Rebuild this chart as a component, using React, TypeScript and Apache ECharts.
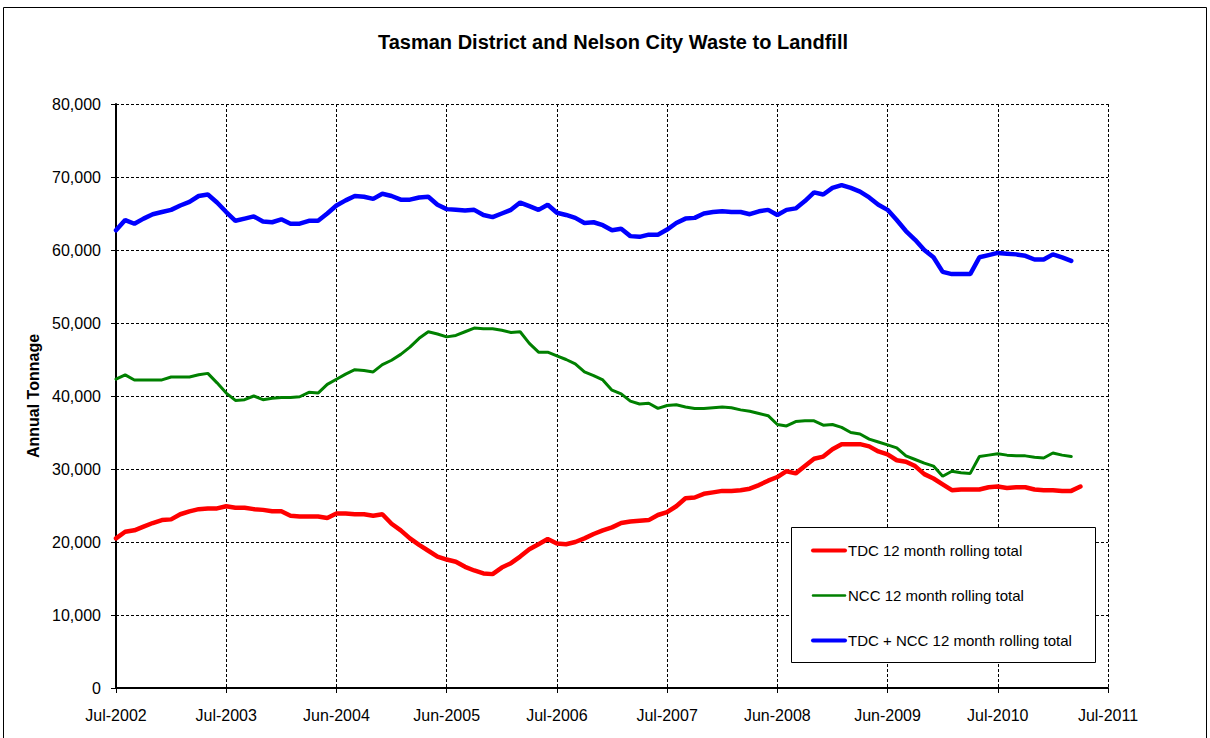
import React, { useEffect, useRef } from "react";
import * as echarts from "echarts";

const title = "Tasman District and Nelson City Waste to Landfill";
const yAxisName = "Annual Tonnage";
const tickLabels = [
  "Jul-2002", "Jul-2003", "Jun-2004", "Jun-2005", "Jul-2006",
  "Jul-2007", "Jun-2008", "Jun-2009", "Jul-2010", "Jul-2011",
];
const seriesNames = [
  "TDC 12 month rolling total",
  "NCC 12 month rolling total",
  "TDC + NCC 12 month rolling total",
];

// monthly values from Jul-2002
const tdc = [
  20500, 21400, 21600, 22100, 22600, 23000, 23100, 23800, 24200, 24500,
  24600, 24600, 24900, 24700, 24700, 24500, 24400, 24200, 24200, 23600,
  23500, 23500, 23500, 23300, 23900, 23900, 23800, 23800, 23600, 23800,
  22500, 21600, 20500, 19600, 18800, 18000, 17600, 17300, 16600, 16100,
  15700, 15600, 16500, 17100, 18000, 19000, 19700, 20400, 19800, 19700,
  20000, 20500, 21100, 21600, 22000, 22600, 22800, 22900, 23000, 23700,
  24100, 24900, 26000, 26100, 26600, 26800, 27000, 27000, 27100, 27300,
  27800, 28400, 28900, 29700, 29400, 30400, 31400, 31700, 32700, 33400,
  33400, 33400, 33100, 32400, 32000, 31200, 31000, 30400, 29300, 28700,
  27900, 27100, 27200, 27200, 27200, 27500, 27600, 27400, 27500, 27500,
  27200, 27100, 27100, 27000, 27000, 27600,
];
const ncc = [
  42300, 42900, 42200, 42200, 42200, 42200, 42600, 42600, 42600, 42900,
  43100, 41800, 40400, 39400, 39500, 40000, 39500, 39700, 39800, 39800,
  39900, 40500, 40400, 41600, 42300, 43000, 43600, 43500, 43300, 44300,
  44900, 45700, 46700, 47900, 48800, 48500, 48100, 48300, 48800, 49300,
  49200, 49200, 49000, 48700, 48800, 47200, 46000, 46000, 45500, 45000,
  44400, 43300, 42800, 42200, 40800, 40300, 39300, 38900, 39000, 38300,
  38700, 38800, 38500, 38300, 38300, 38400, 38500, 38400, 38100, 37900,
  37600, 37300, 36100, 35900, 36500, 36600, 36600, 36000, 36100, 35700,
  35000, 34800, 34100, 33700, 33300, 32900, 31800, 31300, 30800, 30400,
  29000, 29700, 29500, 29400, 31700, 31900, 32100, 31900, 31800, 31800,
  31600, 31500, 32200, 31900, 31700,
];
const total = [
  62700, 64100, 63600, 64300, 64900, 65200, 65500, 66100, 66600, 67400,
  67600, 66500, 65200, 64000, 64300, 64600, 63900, 63800, 64200, 63600,
  63600, 64000, 64000, 65000, 66100, 66800, 67400, 67300, 67000, 67700,
  67400, 66900, 66900, 67200, 67300, 66200, 65600, 65500, 65400, 65500,
  64800, 64500, 65000, 65500, 66500, 66000, 65500, 66200, 65100, 64800,
  64400, 63700, 63800, 63400, 62700, 62900, 61900, 61800, 62100, 62100,
  62800, 63700, 64300, 64400, 65000, 65200, 65300, 65200, 65200, 64900,
  65300, 65500, 64800, 65500, 65700, 66700, 67900, 67600, 68500, 68900,
  68500, 68000, 67200, 66200, 65500, 64100, 62600, 61400, 60000, 59000,
  57000, 56700, 56700, 56700, 59000, 59300, 59600, 59500, 59400, 59200,
  58700, 58700, 59400, 59000, 58500,
];
const seriesData = [tdc, ncc, total];
const seriesColors = ["#ff0000", "#008000", "#0000ff"];
const seriesWidths = [4.5, 3, 4.5];

const FONT = "Liberation Sans";

export default function App() {
  const ref = useRef<HTMLDivElement>(null);
  useEffect(() => {
    if (!ref.current) return;
    const chart = echarts.init(ref.current, null, { renderer: "svg" });
    chart.setOption({
      animation: false,
      backgroundColor: "#ffffff",
      textStyle: { fontFamily: FONT },
      title: {
        text: title,
        left: 608,
        textAlign: "center",
        top: 27,
        textStyle: { fontFamily: FONT, fontSize: 20, fontWeight: "bold", color: "#000" },
      },
      graphic: [
        {
          type: "rect",
          shape: { x: 3.5, y: 7.5, width: 1203, height: 740 },
          style: { fill: "none", stroke: "#000", lineWidth: 1 },
          silent: true,
        },
        {
          type: "rect",
          shape: { x: 791.5, y: 527.5, width: 304, height: 135 },
          style: { fill: "#fff", stroke: "#000", lineWidth: 1 },
          z: 3,
          silent: true,
        },
      ],
      legend: {
        orient: "vertical",
        left: 811,
        top: 543,
        padding: 0,
        itemWidth: 32,
        itemHeight: 17,
        itemGap: 30,
        z: 10,
        data: seriesNames.map((name, i) => ({
          name,
          itemStyle: { opacity: 0 },
          lineStyle: { color: seriesColors[i], width: seriesWidths[i] - 0.5, cap: "round" },
        })),
        itemStyle: { opacity: 0 },
        textStyle: { fontFamily: FONT, fontSize: 15, color: "#000", padding: [0, 0, 0, -2] },
      },
      grid: { left: 116, right: 102, top: 104, bottom: 50, containLabel: false },
      xAxis: {
        type: "value",
        min: 0,
        max: (tickLabels.length - 1) * 12,
        interval: 12,
        axisLine: { show: true, lineStyle: { color: "#000", width: 2 } },
        axisTick: { show: true, length: 5, lineStyle: { color: "#000" } },
        axisLabel: {
          margin: 19,
          fontFamily: FONT,
          fontSize: 16,
          color: "#000",
          formatter: (v: number) => tickLabels[Math.round(v / 12)] ?? "",
        },
        splitLine: { show: true, lineStyle: { color: "#000", type: [3, 2], width: 1 } },
      },
      yAxis: {
        type: "value",
        min: 0,
        max: 80000,
        interval: 10000,
        name: yAxisName,
        nameLocation: "middle",
        nameGap: 67,
        nameTextStyle: { fontFamily: FONT, fontSize: 16, fontWeight: "bold", color: "#000" },
        axisLine: { show: true, lineStyle: { color: "#000", width: 2 } },
        axisTick: { show: true, length: 5, lineStyle: { color: "#000" } },
        axisLabel: {
          margin: 15,
          fontFamily: FONT,
          fontSize: 16,
          color: "#000",
          formatter: (v: number) => v.toLocaleString("en-US"),
        },
        splitLine: { show: true, lineStyle: { color: "#000", type: [3, 2], width: 1 } },
      },
      series: seriesNames.map((name, i) => ({
        name,
        type: "line",
        symbol: "none",
        showSymbol: false,
        data: seriesData[i].map((v, m) => [m, v]),
        lineStyle: { color: seriesColors[i], width: seriesWidths[i], cap: "round" },
        itemStyle: { color: seriesColors[i] },
        z: 2 + i,
      })),
    });
    return () => chart.dispose();
  }, []);
  return (
    <div
      ref={ref}
      style={{ position: "fixed", left: 0, top: 0, width: 1210, height: 738 }}
    />
  );
}
